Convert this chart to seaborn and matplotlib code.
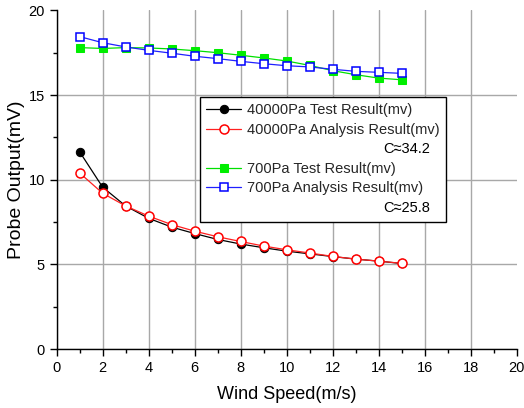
import numpy as np
import pandas as pd
import matplotlib
matplotlib.use("Agg")
import matplotlib.pyplot as plt
from matplotlib.lines import Line2D
import seaborn as sns

# Wind speed (m/s)
wind_speed = [1, 2, 3, 4, 5, 6, 7, 8, 9, 10, 11, 12, 13, 14, 15]

# Probe output (mV)
test_40000 = [11.65, 9.56, 8.45, 7.72, 7.2, 6.82, 6.47, 6.2, 5.98, 5.78, 5.62, 5.46, 5.31, 5.19, 5.05]
analysis_40000 = [10.4, 9.2, 8.45, 7.85, 7.35, 6.96, 6.63, 6.35, 6.08, 5.86, 5.67, 5.47, 5.31, 5.19, 5.06]
test_700 = [17.8, 17.75, 17.8, 17.78, 17.72, 17.62, 17.5, 17.35, 17.19, 17.01, 16.75, 16.44, 16.2, 16.0, 15.9]
analysis_700 = [18.45, 18.09, 17.84, 17.64, 17.47, 17.29, 17.15, 16.99, 16.85, 16.73, 16.66, 16.52, 16.4, 16.34, 16.28]

labels = ["40000Pa Test Result(mv)", "40000Pa Analysis Result(mv)",
          "700Pa Test Result(mv)", "700Pa Analysis Result(mv)"]
c_notes = ["C\u224834.2", "C\u224825.8"]

df = pd.DataFrame({
    "speed": wind_speed,
    "t40000": test_40000,
    "a40000": analysis_40000,
    "t700": test_700,
    "a700": analysis_700,
})

sns.set_theme(style="white")
plt.rcParams["font.family"] = ["Liberation Sans", "DejaVu Sans"]

fig = plt.figure(figsize=(5.24, 4.08), dpi=100)
ax = fig.add_axes([0.108, 0.1446, 0.878, 0.83])

styles = [
    ("t40000", dict(color="black", marker="o", markersize=6, markerfacecolor="black",
                    markeredgecolor="black")),
    ("a40000", dict(color="#ff2020", marker="o", markersize=6.5, markerfacecolor="white",
                    markeredgecolor="#ff0000", markeredgewidth=1.1)),
    ("t700", dict(color="#00e000", marker="s", markersize=5.5, markerfacecolor="#00ee00",
                  markeredgecolor="#00ee00")),
    ("a700", dict(color="#2020ff", marker="s", markersize=5.5, markerfacecolor="white",
                  markeredgecolor="#0000ff", markeredgewidth=1.1)),
]
handles = []
for (col, kw), lab in zip(styles, labels):
    sns.lineplot(data=df, x="speed", y=col, ax=ax, linewidth=0.9, label=lab, **kw)
    handles.append(ax.get_lines()[-1])

ax.set_xlim(0, 20)
ax.set_ylim(0, 20)
ax.set_xticks(np.arange(0, 21, 2))
ax.set_xticks(np.arange(1, 20, 2), minor=True)
ax.set_yticks([0, 5, 10, 15, 20])
ax.set_yticks([2.5, 7.5, 12.5, 17.5], minor=True)

ax.grid(True, which="major", color="#a8a8a8", linewidth=1.0)
# no grid line on the far edges
ax.xaxis.get_major_ticks()[-1].gridline.set_visible(False)
ax.yaxis.get_major_ticks()[-1].gridline.set_visible(False)

for s in ["top", "right"]:
    ax.spines[s].set_visible(False)
for s in ["left", "bottom"]:
    ax.spines[s].set_color("black")
    ax.spines[s].set_linewidth(1.0)

ax.tick_params(axis="both", which="major", direction="out", length=5, width=1,
               color="black", labelsize=10.5, labelcolor="black", bottom=True, left=True)
ax.tick_params(axis="both", which="minor", direction="out", length=3, width=1,
               color="black", bottom=True, left=True)

ax.set_xlabel("Wind Speed(m/s)", fontsize=13, color="black")
ax.set_ylabel("Probe Output(mV)", fontsize=14, color="black")
ax.xaxis.set_label_coords(0.5, -0.11)
ax.yaxis.set_label_coords(-0.068, 0.5)

blank = Line2D([], [], linestyle="none", marker=None)
leg_handles = [handles[0], handles[1], blank, handles[2], handles[3], blank]
leg_labels = [labels[0], labels[1], " ", labels[2], labels[3], " "]
leg = ax.legend(leg_handles, leg_labels, loc="upper left",
                bbox_to_anchor=(6.23, 14.9), bbox_transform=ax.transData,
                fontsize=10.5, frameon=True, fancybox=False, framealpha=1,
                edgecolor="black", handlelength=2.4, handletextpad=0.35,
                labelspacing=0.38, borderpad=0.45, borderaxespad=0)
leg.get_frame().set_linewidth(1.0)

fig.canvas.draw()
renderer = fig.canvas.get_renderer()
frame_bb = leg.get_frame().get_window_extent(renderer)
texts = leg.get_texts()
inv = fig.transFigure.inverted()
for idx, note in zip([2, 5], c_notes):
    tb = texts[idx].get_window_extent(renderer)
    x_right = frame_bb.x1 - 16
    y_mid = (tb.y0 + tb.y1) / 2
    fx, fy = inv.transform((x_right, y_mid))
    fig.text(fx, fy, note, ha="right", va="center", fontsize=10.5, color="black")

fig.savefig("out.png", dpi=100)
